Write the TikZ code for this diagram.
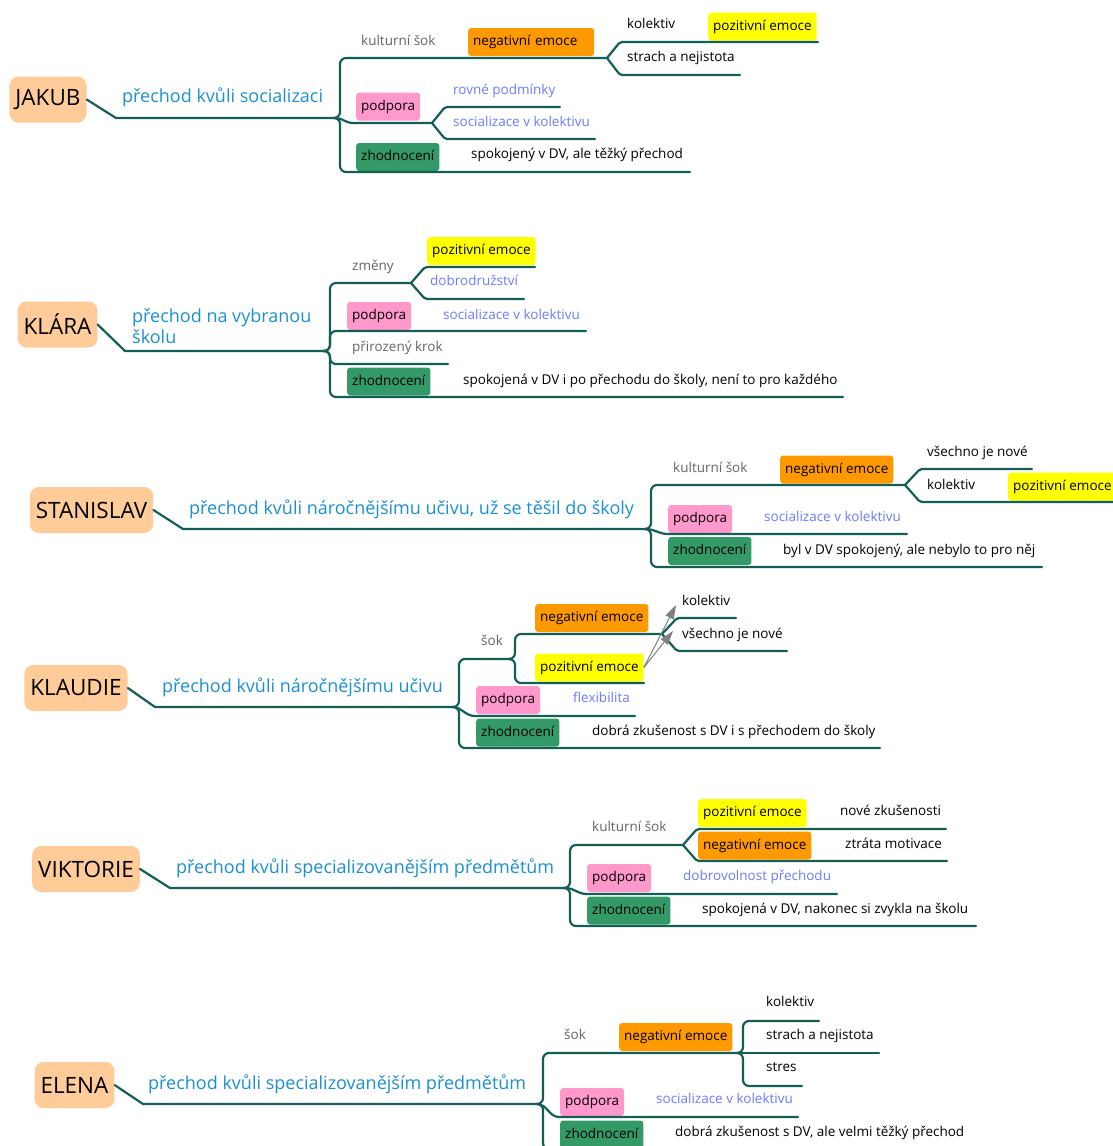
\documentclass[tikz,border=0pt]{standalone}
\usepackage{fontspec}
\setmainfont{Open Sans}
\usetikzlibrary{arrows.meta}
\definecolor{linec}{RGB}{19,94,87}
\definecolor{peach}{RGB}{255,204,153}
\definecolor{topicblue}{RGB}{27,143,214}
\definecolor{noteblue}{RGB}{107,122,255}
\definecolor{subgray}{RGB}{100,100,100}
\definecolor{negorange}{RGB}{255,153,0}
\definecolor{posyellow}{RGB}{255,255,0}
\definecolor{suppink}{RGB}{255,153,204}
\definecolor{evalgreen}{RGB}{51,153,102}
\tikzset{
  branch/.style={draw=linec, line width=2.2pt, line cap=round, line join=round},
  person/.style={fill=peach, rounded corners=9pt, inner xsep=6pt, inner ysep=0pt, minimum height=46pt, font=\fontsize{22.5}{26}\selectfont},
  topic/.style={anchor=west, inner sep=0pt, align=left, text=topicblue, font=\fontsize{18}{20.5}\selectfont},
  leaf/.style={anchor=west, inner sep=0pt, text height=10pt, text depth=3pt, font=\fontsize{13.5}{16}\selectfont},
  note/.style={leaf, text=noteblue},
  sub/.style={leaf, text=subgray},
  tag/.style={anchor=west, rounded corners=3pt, inner xsep=5pt, inner ysep=0pt, minimum height=28pt, text height=10pt, text depth=3pt, font=\fontsize{13.5}{16}\selectfont},
  negtag/.style={tag, fill=negorange},
  postag/.style={tag, fill=posyellow},
  suptag/.style={tag, fill=suppink},
  evaltag/.style={tag, fill=evalgreen},
  hint/.style={draw=black!50, fill=black!50, line width=1pt, -{Triangle[length=14pt,width=9pt]}}
}
\begin{document}
\begin{tikzpicture}[x=1pt,y=-1pt]
\useasboundingbox (0,0) rectangle (1113,1146);

\node[person] (jakub) at (48,99.5) {JAKUB};
\node[topic] (jakub-t) at (122,97) {přechod kvůli socializaci};
\coordinate (jakub-f) at (334,118);
\draw[branch] (jakub.east) -- (116,118) -- (jakub-f);
\node[sub] (jakub-ks) at (361,42) {kulturní šok};
\node[negtag, text width=116pt] (jakub-neg) at (468,42) {negativní emoce};
\coordinate (jakub-nf) at (607,58);
\draw[branch, rounded corners=6pt] (jakub-f) -| (340,58) -- (jakub-nf);
\node[leaf] (jakub-kol) at (627,25) {kolektiv};
\node[postag] (jakub-pos) at (708,26.5) {pozitivní emoce};
\draw[branch, rounded corners=2pt] (jakub-nf) -- (620,42) -- (818,42);
\node[leaf] (jakub-str) at (627,58) {strach a nejistota};
\draw[branch, rounded corners=2pt] (jakub-nf) -- (620,75) -- (740,75);
\node[suptag] (jakub-sup) at (356,106.5) {podpora};
\coordinate (jakub-pf) at (432,123);
\draw[branch] (jakub-f) .. controls (344,118) and (344,123) .. (354,123) -- (jakub-pf);
\node[note] (jakub-rov) at (453,91) {rovné podmínky};
\draw[branch, rounded corners=2pt] (jakub-pf) -- (445,107) -- (560,107);
\node[note] (jakub-soc) at (453,123) {socializace v kolektivu};
\draw[branch, rounded corners=2pt] (jakub-pf) -- (445,139) -- (595,139);
\node[evaltag] (jakub-ev) at (356,157) {zhodnocení};
\node[leaf] (jakub-evt) at (471,155) {spokojený v DV, ale těžký přechod};
\draw[branch, rounded corners=6pt] (jakub-f) -| (340,172) -- (690,172);

\node[person] (klara) at (57.5,324.5) {KLÁRA};
\node[topic] (klara-t) at (132,326) {přechod na vybranou\\školu};
\coordinate (klara-f) at (323,351);
\draw[branch] (klara.east) -- (125,351) -- (klara-f);
\node[sub] (klara-zm) at (352,267) {změny};
\coordinate (klara-zf) at (411,283);
\draw[branch, rounded corners=6pt] (klara-f) -| (330,283) -- (klara-zf);
\node[postag] (klara-pos) at (427,251) {pozitivní emoce};
\draw[branch, rounded corners=2pt] (klara-zf) -- (425,267) -- (535,267);
\node[note] (klara-dob) at (430,282) {dobrodružství};
\draw[branch, rounded corners=2pt] (klara-zf) -- (425,299) -- (524,299);
\node[suptag] (klara-sup) at (347,316) {podpora};
\node[note] (klara-soc) at (443,316) {socializace v kolektivu};
\draw[branch, rounded corners=6pt] (klara-f) -| (330,331) -- (586,331);
\node[sub] (klara-kr) at (352,348) {přirozený krok};
\draw[branch, rounded corners=6pt] (klara-f) -| (330,364) -- (448,364);
\node[evaltag] (klara-ev) at (347,381.5) {zhodnocení};
\node[leaf] (klara-evt) at (463,381) {spokojená v DV i po přechodu do školy, není to pro každého};
\draw[branch, rounded corners=6pt] (klara-f) -| (330,397) -- (843,397);

\node[person] (stanislav) at (91.5,510) {STANISLAV};
\node[topic] (stan-t) at (189,509) {přechod kvůli náročnějšímu učivu, už se těšil do školy};
\coordinate (stan-f) at (645,529);
\draw[branch] (stanislav.east) -- (183,529) -- (stan-f);
\node[sub] (stan-ks) at (673,469) {kulturní šok};
\node[negtag] (stan-neg) at (780,469.5) {negativní emoce};
\coordinate (stan-nf) at (905,485);
\draw[branch, rounded corners=6pt] (stan-f) -| (651,485) -- (stan-nf);
\node[leaf] (stan-new) at (927,453) {všechno je nové};
\draw[branch, rounded corners=2pt] (stan-nf) -- (920,469) -- (1032,469);
\node[leaf] (stan-kol) at (927,486) {kolektiv};
\node[postag] (stan-pos) at (1008,486.5) {pozitivní emoce};
\draw[branch, rounded corners=2pt] (stan-nf) -- (920,502) -- (1125,502);
\node[suptag] (stan-sup) at (668,519) {podpora};
\node[note] (stan-soc) at (764,518) {socializace v kolektivu};
\draw[branch] (stan-f) .. controls (656,529) and (658,534) .. (668,534) -- (907,534);
\node[evaltag] (stan-ev) at (668,551) {zhodnocení};
\node[leaf] (stan-evt) at (783,551) {byl v DV spokojený, ale nebylo to pro něj};
\draw[branch, rounded corners=6pt] (stan-f) -| (651,567) -- (1042,567);

\node[person] (klaudie) at (76,688) {KLAUDIE};
\node[topic] (klau-t) at (162,687) {přechod kvůli náročnějšímu učivu};
\coordinate (klau-f) at (452,707);
\draw[branch] (klaudie.east) -- (155,707) -- (klau-f);
\node[sub] (klau-sok) at (481,642) {šok};
\coordinate (klau-sf) at (510,659);
\draw[branch, rounded corners=6pt] (klau-f) -| (459,659) -- (klau-sf);
\node[negtag] (klau-neg) at (535,618) {negativní emoce};
\coordinate (klau-nf) at (662,634);
\draw[branch, rounded corners=6pt] (klau-sf) -| (515,634) -- (klau-nf);
\node[leaf] (klau-kol) at (682,602) {kolektiv};
\draw[branch, rounded corners=2pt] (klau-nf) -- (677,618) -- (736,618);
\node[leaf] (klau-new) at (682,635) {všechno je nové};
\draw[branch, rounded corners=2pt] (klau-nf) -- (677,651) -- (787,651);
\node[postag] (klau-pos) at (535,667.5) {pozitivní emoce};
\draw[branch, rounded corners=6pt] (klau-sf) -| (515,683) -- (644,683);
\draw[hint] (klau-pos.east) -- ([xshift=-6pt,yshift=-3pt]klau-kol.west);
\draw[hint] (klau-pos.east) -- ([xshift=-9pt,yshift=4pt]klau-new.west);
\node[suptag] (klau-sup) at (476,700) {podpora};
\node[note] (klau-flex) at (573,699) {flexibilita};
\draw[branch] (klau-f) .. controls (462,707) and (465,716) .. (475,716) -- (635,716);
\node[evaltag] (klau-ev) at (476,732.5) {zhodnocení};
\node[leaf] (klau-evt) at (592,732) {dobrá zkušenost s DV i s přechodem do školy};
\draw[branch, rounded corners=6pt] (klau-f) -| (459,748) -- (880,748);

\node[person] (viktorie) at (86,869) {VIKTORIE};
\node[topic] (vik-t) at (176,868) {přechod kvůli specializovanějším předmětům};
\coordinate (vik-f) at (565,888);
\draw[branch] (viktorie.east) -- (170,888) -- (vik-f);
\node[sub] (vik-ks) at (592,828) {kulturní šok};
\coordinate (vik-kf) at (683,845);
\draw[branch, rounded corners=6pt] (vik-f) -| (570,845) -- (vik-kf);
\node[postag] (vik-pos) at (698,813) {pozitivní emoce};
\node[leaf] (vik-zk) at (840,812) {nové zkušenosti};
\draw[branch, rounded corners=2pt] (vik-kf) -- (697,829) -- (946,829);
\node[negtag] (vik-neg) at (698,845.5) {negativní emoce};
\node[leaf] (vik-mot) at (845,845) {ztráta motivace};
\draw[branch, rounded corners=2pt] (vik-kf) -- (697,861) -- (947,861);
\node[suptag] (vik-sup) at (587,878) {podpora};
\node[note] (vik-dob) at (683,877) {dobrovolnost přechodu};
\draw[branch] (vik-f) .. controls (575,888) and (577,894) .. (587,894) -- (837,894);
\node[evaltag] (vik-ev) at (587,910.5) {zhodnocení};
\node[leaf] (vik-evt) at (702,910) {spokojená v DV, nakonec si zvykla na školu};
\draw[branch, rounded corners=6pt] (vik-f) -| (570,926) -- (976,926);

\node[person] (elena) at (74.5,1085) {ELENA};
\node[topic] (ele-t) at (148,1084) {přechod kvůli specializovanějším předmětům};
\coordinate (ele-f) at (537,1104);
\draw[branch] (elena.east) -- (143,1104) -- (ele-f);
\node[sub] (ele-sok) at (564,1036) {šok};
\node[negtag] (ele-neg) at (619,1037) {negativní emoce};
\coordinate (ele-nf) at (738,1053);
\draw[branch, rounded corners=6pt] (ele-f) -| (543,1053) -- (ele-nf);
\node[leaf] (ele-kol) at (766,1003) {kolektiv};
\draw[branch, rounded corners=6pt] (ele-nf) -| (743,1021) -- (819,1021);
\node[leaf] (ele-str) at (766,1036) {strach a nejistota};
\draw[branch] (ele-nf) -- (879,1053);
\node[leaf] (ele-stres) at (766,1068) {stres};
\draw[branch, rounded corners=6pt] (ele-nf) -| (743,1086) -- (802,1086);
\node[suptag] (ele-sup) at (560,1102) {podpora};
\node[note] (ele-soc) at (656,1100) {socializace v kolektivu};
\draw[branch] (ele-f) .. controls (547,1104) and (549,1117) .. (559,1117) -- (798,1117);
\node[evaltag] (ele-ev) at (560,1134.5) {zhodnocení};
\node[leaf] (ele-evt) at (675,1133) {dobrá zkušenost s DV, ale velmi těžký přechod};
\draw[branch, rounded corners=6pt] (ele-f) -| (543,1149) -- (975,1149);
\end{tikzpicture}
\end{document}
